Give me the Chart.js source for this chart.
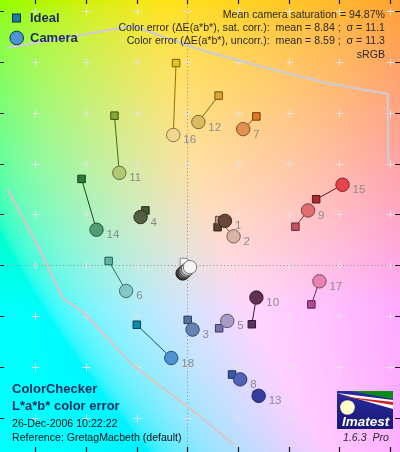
<!DOCTYPE html>
<html><head><meta charset="utf-8">
<style>html,body{margin:0;padding:0;background:#fff;overflow:hidden}canvas{display:block}</style>
<script src="https://cdn.jsdelivr.net/npm/chart.js@4.4.1/dist/chart.umd.min.js"></script>
</head><body>
<canvas id="c" width="400" height="452" style="width:400px;height:452px"></canvas>
<script>
// ---------- data ----------
const patchNumbers = [1,2,3,4,5,6,7,8,9,10,11,12,13,14,15,16,17,18];
const idealA  = [12.0,12.6, 0.2,-16.5,12.6,-31.0,27.3,17.7,42.7,25.5,-28.7,12.4,27.5,-41.7,50.9,-4.4,49.0,-19.9];
const idealB  = [15.0,17.8,-21.5,21.6,-24.8,  1.7,58.6,-43.0,15.2,-23.2,58.9,66.8,-51.0,34.0,26.0,79.6,-15.4,-23.4];
const cameraA = [14.9,18.3, 2.1,-18.4,15.8,-24.1,22.1,20.9,47.7,27.3,-26.8, 4.4,28.2,-35.8,61.3,-5.5,52.2, -6.3];
const cameraB = [17.5,11.4,-25.3,19.0,-21.9,-10.1,53.6,-44.9,21.6,-12.7,36.4,56.4,-51.4,14.0,31.7,51.3,-6.3,-36.5];
const idealColors  = ['#5e4232','#c29682','#5272a2','#48582f','#7474a8','#5fb5a5','#e07a22','#3d5aa6','#c05462','#5a3262','#86a834','#e0a32e','#383d96','#2f7a36','#b02a34','#e8c21e','#b24a92','#0c8aa8'];
const cameraColors = ['#6a4838','#dcb2a2','#6482b2','#4f5f3f','#aa9ac8','#82c6c8','#e2914f','#5262b8','#e06e70','#603252','#b2c872','#dabb62','#343ea0','#4e9e72','#e8424e','#f0d88e','#e882b0','#4e92d2'];
// neutral patches 24..19 (dark to white)
const neutralNumbers = [24,23,22,21,20,19];
const neutralIdealA = [-1.3,-1.3,-1.3,-1.3,-1.3,-1.3];
const neutralIdealB = [1.3,1.3,1.3,1.3,1.3,1.3];
const neutralCameraA = [-1.8,-1.4,-0.8,-0.3,0.3,1.1];
const neutralCameraB = [-3.2,-2.8,-2.4,-2.0,-1.4,-0.7];
const neutralColors = ['#3a3a3a','#585858','#7c7c7c','#a2a2a2','#cacaca','#f4f4f4'];
// sRGB gamut boundary
const gamutTopA = [-72,-70.9,-21.5,5.0,30.4,55.6,79.1,79.4];
const gamutTopB = [85.2,85.6,94.2,84.9,77.9,71.6,67.5,40.6];
const gamutLeftA = [-72,-70.9,-58.2,-49.3,-40.5,-21.5,5.0,18.3,22.1];
const gamutLeftB = [32.5,29.9,6.3,-12.7,-19.0,-39.3,-59.4,-70.5,-75.4];
// tick values
const aTicks = [-60,-40,-20,0,20,40,60,80];
const bTicks = [-60,-40,-20,0,20,40,60,80,100];
const infoLines = ['Mean camera saturation = 94.87%',
  'Color error (\u0394E(a*b*), sat. corr.):  mean = 8.84 ;  \u03c3 = 11.1',
  'Color error (\u0394E(a*b*), uncorr.):  mean = 8.59 ;  \u03c3 = 11.3',
  'sRGB'];

// ---------- helpers ----------
function shade(hex, f){
  const n = parseInt(hex.slice(1),16);
  const r = Math.round(((n>>16)&255)*f), g = Math.round(((n>>8)&255)*f), b = Math.round((n&255)*f);
  return 'rgb('+r+','+g+','+b+')';
}
function lab2rgb(L,a,b){
  const fy=(L+16)/116, fx=fy+a/500, fz=fy-b/200;
  const fi=t=> t>0.206893 ? t*t*t : (t-16/116)/7.787;
  const X=0.95047*fi(fx), Y=fi(fy), Z=1.08883*fi(fz);
  let r= 3.2406*X-1.5372*Y-0.4986*Z;
  let g=-0.9689*X+1.8758*Y+0.0415*Z;
  let bb=0.0557*X-0.2040*Y+1.0570*Z;
  const gm=v=>{v=Math.min(1,Math.max(0,v));return 255*(v<=0.0031308?12.92*v:1.055*Math.pow(v,1/2.4)-0.055);};
  return [gm(r),gm(g),gm(bb)];
}
const pts = (A,B)=>A.map((v,i)=>({x:v,y:B[i]}));

// ---------- datasets ----------
const datasets = [];
datasets.push({label:'circles',data:pts(cameraA,cameraB),pointStyle:'circle',pointRadius:6.7,
  backgroundColor:cameraColors,borderColor:cameraColors.map(c=>shade(c,0.55)),borderWidth:1,order:1});
datasets.push({label:'neutralCircles',data:pts(neutralCameraA,neutralCameraB),pointStyle:'circle',pointRadius:6.7,
  backgroundColor:neutralColors,borderColor:neutralColors.map(c=>shade(c,0.5)),borderWidth:1,order:2});
datasets.push({label:'squares',data:pts(idealA,idealB),pointStyle:'rect',pointRadius:5.3,
  backgroundColor:idealColors,borderColor:idealColors.map(c=>shade(c,0.5)),borderWidth:1,order:3});
datasets.push({label:'neutralSquares',data:pts(neutralIdealA.slice(-1),neutralIdealB.slice(-1)),pointStyle:'rect',pointRadius:5.3,
  backgroundColor:'#f6f6f6',borderColor:'#8a8a8a',borderWidth:1,order:4});
patchNumbers.forEach((n,i)=>{
  datasets.push({type:'line',label:'link'+n,data:[{x:idealA[i],y:idealB[i]},{x:cameraA[i],y:cameraB[i]}],
    borderColor:shade(idealColors[i],0.6),borderWidth:1,pointRadius:0,fill:false,order:5});
});
datasets.push({type:'line',label:'gamutTop',data:pts(gamutTopA,gamutTopB),borderColor:'#cfcbd0',borderWidth:2.2,pointRadius:0,fill:false,order:10});
datasets.push({type:'line',label:'gamutLeft',data:pts(gamutLeftA,gamutLeftB),borderColor:'#d6c8c8',borderWidth:2.2,pointRadius:0,fill:false,order:10});

// ---------- plugins ----------
const CHROMA = 0.84;
const bgPlugin = {
  id:'bg',
  beforeDatasetsDraw(chart){
    const ctx=chart.ctx, xs=chart.scales.x, ys=chart.scales.y;
    const W=chart.canvas.width, H=chart.canvas.height, dpr=chart.currentDevicePixelRatio||1;
    const img=ctx.createImageData(W,H);
    for(let py=0;py<H;py++){
      const b=ys.getValueForPixel((py+0.5)/dpr);
      for(let px=0;px<W;px++){
        const a=xs.getValueForPixel((px+0.5)/dpr);
        const c=lab2rgb(90,a*CHROMA,b*CHROMA); const k=4*(py*W+px);
        img.data[k]=c[0];img.data[k+1]=c[1];img.data[k+2]=c[2];img.data[k+3]=255;
      }
    }
    ctx.putImageData(img,0,0);
    ctx.save();
    // crosses
    ctx.strokeStyle='rgba(228,228,228,0.9)'; ctx.lineWidth=1;
    aTicks.forEach(a=>{ bTicks.forEach(b=>{
      const x=Math.round(xs.getPixelForValue(a))+0.5, y=Math.round(ys.getPixelForValue(b))+0.5;
      ctx.beginPath(); ctx.moveTo(x-4,y); ctx.lineTo(x+4,y); ctx.moveTo(x,y-4); ctx.lineTo(x,y+4); ctx.stroke();
    });});
    // dotted zero lines
    ctx.strokeStyle='#8f8f96'; ctx.setLineDash([1,2.5]);
    const x0=Math.round(xs.getPixelForValue(0))+0.5, y0=Math.round(ys.getPixelForValue(0))+0.5;
    ctx.beginPath(); ctx.moveTo(x0,0); ctx.lineTo(x0,452); ctx.moveTo(0,y0); ctx.lineTo(400,y0); ctx.stroke();
    ctx.setLineDash([]);
    // edge ticks
    ctx.strokeStyle='#1a1a1a'; ctx.lineWidth=1.2;
    aTicks.forEach(a=>{ const x=Math.round(xs.getPixelForValue(a))+0.5;
      ctx.beginPath(); ctx.moveTo(x,0); ctx.lineTo(x,4); ctx.moveTo(x,452); ctx.lineTo(x,447); ctx.stroke(); });
    bTicks.forEach(b=>{ const y=Math.round(ys.getPixelForValue(b))+0.5;
      ctx.beginPath(); ctx.moveTo(0,y); ctx.lineTo(4,y); ctx.moveTo(400,y); ctx.lineTo(395,y); ctx.stroke(); });
    ctx.restore();
  },
  afterDatasetsDraw(chart){
    const ctx=chart.ctx;
    ctx.save();
    // patch numbers
    const meta=chart.getDatasetMeta(0);
    ctx.font='11.5px "Liberation Sans", Arial, sans-serif'; ctx.fillStyle='#8a8a90'; ctx.textAlign='left'; ctx.textBaseline='alphabetic';
    meta.data.forEach((el,i)=>{ ctx.fillText(String(patchNumbers[i]), el.x+10, el.y+8.5); });
    // legend
    ctx.fillStyle='#1a7fa8'; ctx.strokeStyle='#0b2f4e'; ctx.lineWidth=1;
    ctx.fillRect(12.5,14,8,8); ctx.strokeRect(12.5,14,8,8);
    ctx.beginPath(); ctx.arc(16.7,38,6.8,0,Math.PI*2); ctx.fillStyle='#4a96d6'; ctx.fill(); ctx.strokeStyle='#12305a'; ctx.stroke();
    ctx.font='bold 13px "Liberation Sans", Arial, sans-serif'; ctx.fillStyle='#1b2c5c'; ctx.textBaseline='middle';
    ctx.fillText('Ideal',30,18.5); ctx.fillText('Camera',30,38.5);
    // info text
    ctx.textBaseline='alphabetic'; ctx.textAlign='right'; ctx.fillStyle='#2a2a2a';
    ctx.font='10.6px "Liberation Sans", Arial, sans-serif';
    infoLines.forEach((t,i)=>ctx.fillText(t,385,17.7+13.3*i));
    // bottom-left titles
    ctx.textAlign='left'; ctx.fillStyle='#1b2c5c'; ctx.font='bold 13px "Liberation Sans", Arial, sans-serif';
    ctx.fillText('ColorChecker',12,393.3); ctx.fillText('L*a*b* color error',12,410);
    ctx.fillStyle='#111'; ctx.font='10.6px "Liberation Sans", Arial, sans-serif';
    ctx.fillText('26-Dec-2006 10:22:22',12,427.3); ctx.fillText('Reference: GretagMacbeth (default)',12,440.7);
    // Imatest logo
    const lx=337, ly=391, lw=56, lh=38;
    const gr=ctx.createLinearGradient(lx,ly,lx,ly+lh); gr.addColorStop(0,'#2a2aa0'); gr.addColorStop(1,'#181878');
    ctx.fillStyle=gr; ctx.fillRect(lx,ly,lw,lh);
    ctx.beginPath(); ctx.moveTo(lx,ly+2); ctx.lineTo(lx+lw,ly+9); ctx.lineTo(lx+lw,ly+18); ctx.closePath(); ctx.fillStyle='#ffffff'; ctx.fill();
    ctx.beginPath(); ctx.moveTo(lx+2,ly+5); ctx.lineTo(lx+lw,ly+11); ctx.lineTo(lx+lw,ly+14); ctx.closePath(); ctx.fillStyle='#d02020'; ctx.fill();
    ctx.beginPath(); ctx.moveTo(lx+14,ly); ctx.lineTo(lx+lw,ly); ctx.lineTo(lx+lw,ly+8); ctx.closePath(); ctx.fillStyle='#0a8a1a'; ctx.fill();
    ctx.beginPath(); ctx.arc(lx+10.5,ly+16.5,7.3,0,Math.PI*2); ctx.fillStyle='#ffffc8'; ctx.fill();
    ctx.fillStyle='#ffffff'; ctx.font='italic bold 13.5px "Liberation Sans", Arial, sans-serif'; ctx.textAlign='left';
    ctx.fillText('Imatest',lx+5,ly+34.5);
    ctx.fillStyle='#2a2a2a'; ctx.font='italic 10.6px "Liberation Sans", Arial, sans-serif';
    ctx.fillText('1.6.3  Pro',343,440.7);
    ctx.restore();
  }
};

new Chart(document.getElementById('c'),{
  type:'scatter',
  data:{datasets},
  options:{
    responsive:false, animation:false,
    layout:{padding:0},
    plugins:{legend:{display:false},tooltip:{enabled:false},title:{display:false}},
    scales:{
      x:{type:'linear',min:-70.85,max:80.95,display:false},
      y:{type:'linear',min:-70.46,max:101.4,display:false}
    }
  },
  plugins:[bgPlugin]
});
</script>
</body></html>
